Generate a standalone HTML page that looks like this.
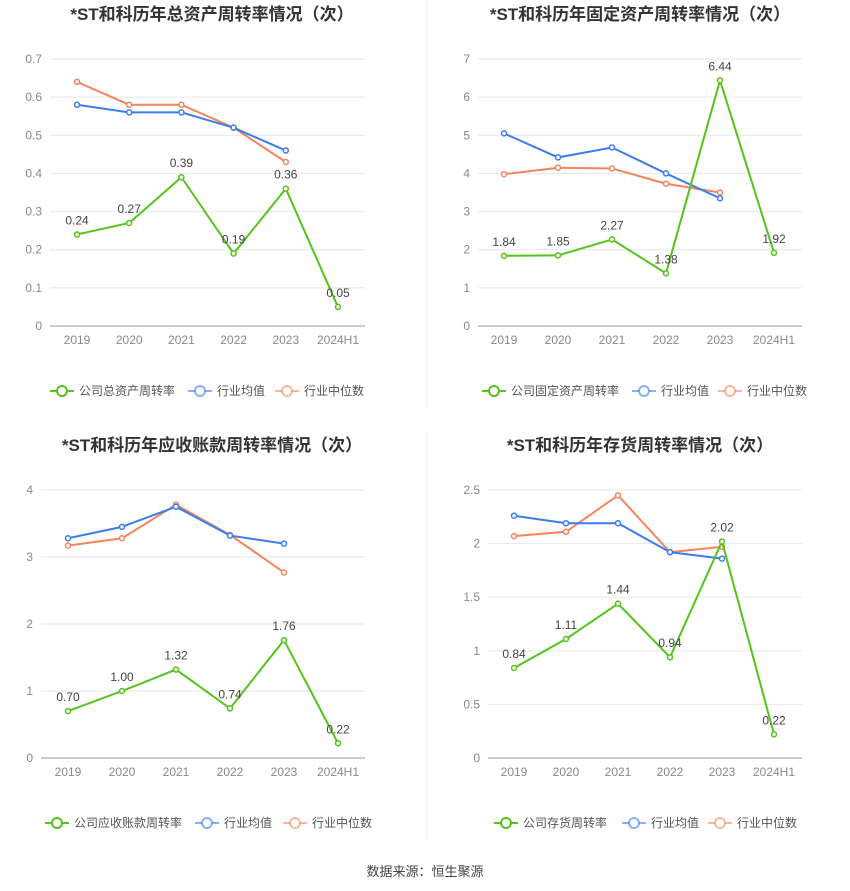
<!DOCTYPE html>
<html><head><meta charset="utf-8">
<style>
html,body{margin:0;padding:0;background:#fff;}
svg{display:block;font-family:"Liberation Sans","Noto Sans CJK SC",sans-serif;}
</style></head>
<body>
<svg id="c" width="850" height="891" viewBox="0 0 850 891">
<line x1="427" y1="0" x2="427" y2="410" stroke="#eef0f4"/>
<line x1="427" y1="432" x2="427" y2="840" stroke="#eef0f4"/>
<text x="425" y="876" text-anchor="middle" font-size="13" fill="#444">数据来源：恒生聚源</text>
</svg>
<script>
const categories = ["2019","2020","2021","2022","2023","2024H1"];
const c1Company = [0.24,0.27,0.39,0.19,0.36,0.05];
const c1Avg = [0.58,0.56,0.56,0.52,0.46];
const c1Median = [0.64,0.58,0.58,0.52,0.43];
const c1Ticks = ["0","0.1","0.2","0.3","0.4","0.5","0.6","0.7"];
const c2Company = [1.84,1.85,2.27,1.38,6.44,1.92];
const c2Avg = [5.05,4.42,4.68,4.0,3.35];
const c2Median = [3.98,4.15,4.13,3.73,3.5];
const c2Ticks = ["0","1","2","3","4","5","6","7"];
const c3Company = [0.70,1.00,1.32,0.74,1.76,0.22];
const c3Avg = [3.28,3.45,3.75,3.32,3.2];
const c3Median = [3.17,3.28,3.78,3.33,2.77];
const c3Ticks = ["0","1","2","3","4"];
const c4Company = [0.84,1.11,1.44,0.94,2.02,0.22];
const c4Avg = [2.26,2.19,2.19,1.92,1.86];
const c4Median = [2.07,2.11,2.45,1.92,1.97];
const c4Ticks = ["0","0.5","1","1.5","2","2.5"];

const svg = document.getElementById('c');
const NS = "http://www.w3.org/2000/svg";
function mk(tag, attrs, parent){const e=document.createElementNS(NS,tag);for(const k in attrs)e.setAttribute(k,attrs[k]);(parent||svg).appendChild(e);return e;}
const GREEN="#52c41a", BLUE="#3b7ded", ORANGE="#f5845c";

function chart(o){
  const g = mk('g',{});
  
  
  const tmax = parseFloat(o.ticks[o.ticks.length-1]);
  const y = v => o.y0 - (v/tmax)*(o.y0-o.y1);
  const x = i => o.xStart + i*o.xStep;
  const t = mk('text',{x:o.cx,y:o.ty,'text-anchor':'middle','font-size':17,'font-weight':'bold',fill:'#333'},g);
  t.textContent = o.title;
  
  
  o.ticks.forEach(tk=>{
    const v=parseFloat(tk), yy=y(v);
    const l = mk('line',{x1:o.gx0,x2:o.gx1,y1:yy,y2:yy,stroke:v===0?'#999':'#e4e7ee','stroke-width':1},g);
    
    
    const tl = mk('text',{x:o.gx0-8,y:yy+4,'text-anchor':'end','font-size':12,fill:'#888'},g);
    tl.textContent = tk;
    
    
  });
  categories.forEach((c,i)=>{
    const tl = mk('text',{x:x(i),y:o.y0+18,'text-anchor':'middle','font-size':12,fill:'#888'},g);
    tl.textContent = c;
    
    
  });
  const series = [[o.median,ORANGE,'median-line'],[o.avg,BLUE,'average-line'],[o.company,GREEN,'company-line']];
  series.forEach(([d,col,nm])=>{
    const p = mk('polyline',{points:d.map((v,i)=>x(i)+','+y(v)).join(' '),fill:'none',stroke:col,'stroke-width':2},g);
    
    
    d.forEach((v,i)=>{
      const ci = mk('circle',{cx:x(i),cy:y(v),r:2.5,fill:'#fff',stroke:col,'stroke-width':1.5},g);
      
      
    });
  });
  o.company.forEach((v,i)=>{
    const tl = mk('text',{x:x(i),y:y(v)-10,'text-anchor':'middle','font-size':12,fill:'#444'},g);
    tl.textContent = o.labels[i];
    
    
  });
  const leg = [[o.legName,GREEN,o.lx[0]],['行业均值',BLUE,o.lx[1]],['行业中位数',ORANGE,o.lx[2]]];
  leg.forEach(([nm,col,lx],k)=>{
    const lg = mk('g',{},g);
    
    
    mk('line',{x1:lx,x2:lx+24,y1:o.ly,y2:o.ly,stroke:k?col+'99':col,'stroke-width':2},lg);
    mk('circle',{cx:lx+12,cy:o.ly,r:5,fill:'#fff',stroke:k?col+'99':col,'stroke-width':2},lg);
    const tt = mk('text',{x:lx+29,y:o.ly+4,'font-size':12,fill:'#555'},lg);
    tt.textContent = nm;
  });
}
const fmt2 = a=>a.map(v=>v.toFixed(2));
chart({id:'total-asset-turnover-chart',title:'*ST和科历年总资产周转率情况（次）',cx:212,ty:20,ticks:c1Ticks,y0:326,y1:59,gx0:50,gx1:365,xStart:77,xStep:52.2,company:c1Company,avg:c1Avg,median:c1Median,labels:fmt2(c1Company),legName:'公司总资产周转率',lx:[50,188,275],ly:391});
chart({id:'fixed-asset-turnover-chart',title:'*ST和科历年固定资产周转率情况（次）',cx:640,ty:20,ticks:c2Ticks,y0:326,y1:59,gx0:478,gx1:802,xStart:504,xStep:54,company:c2Company,avg:c2Avg,median:c2Median,labels:fmt2(c2Company),legName:'公司固定资产周转率',lx:[482,632,718],ly:391});
chart({id:'receivables-turnover-chart',title:'*ST和科历年应收账款周转率情况（次）',cx:212,ty:451,ticks:c3Ticks,y0:758,y1:490,gx0:41,gx1:365,xStart:68,xStep:54,company:c3Company,avg:c3Avg,median:c3Median,labels:fmt2(c3Company),legName:'公司应收账款周转率',lx:[45,195,283],ly:823});
chart({id:'inventory-turnover-chart',title:'*ST和科历年存货周转率情况（次）',cx:640,ty:451,ticks:c4Ticks,y0:758,y1:490,gx0:488,gx1:802,xStart:514,xStep:52,company:c4Company,avg:c4Avg,median:c4Median,labels:fmt2(c4Company),legName:'公司存货周转率',lx:[494,622,708],ly:823});
</script>
</body></html>
